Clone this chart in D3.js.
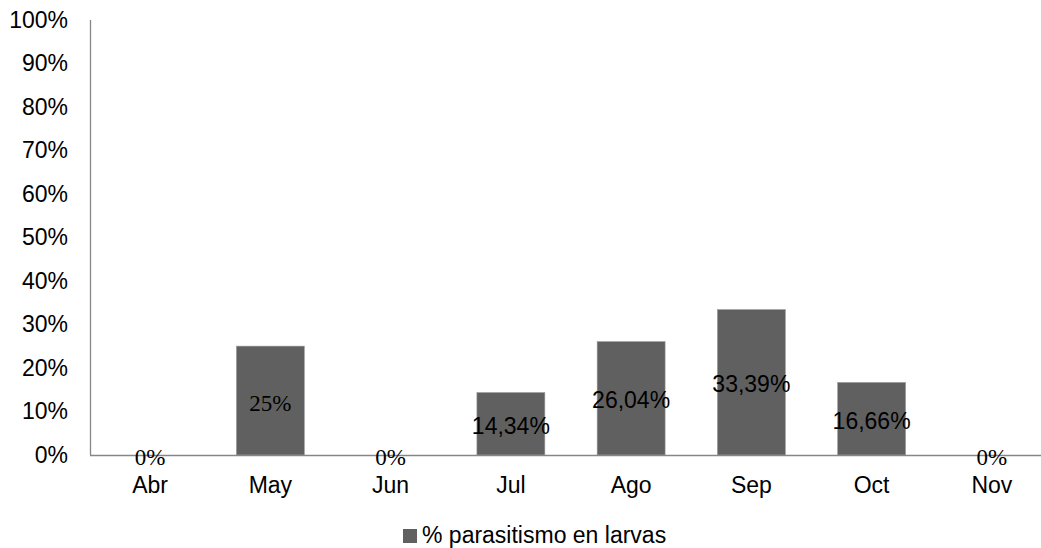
<!DOCTYPE html>
<html>
<head>
<meta charset="utf-8">
<script src="https://cdn.jsdelivr.net/npm/d3@7"></script>
<style>
  html, body { margin: 0; padding: 0; background: #fff; }
  svg { display: block; overflow: hidden; }
  text { font-family: "Liberation Sans", Arial, sans-serif; fill: #000; font-size: 23px; }
  .serif { font-family: "Liberation Serif", "Times New Roman", serif; }
</style>
</head>
<body>
<svg id="chart"></svg>
<script>
// chart data
var months = ['Abr', 'May', 'Jun', 'Jul', 'Ago', 'Sep', 'Oct', 'Nov'];
var values = [0, 25, 0, 14.34, 26.04, 33.39, 16.66, 0];
var valueLabels = ['0%', '25%', '0%', '14,34%', '26,04%', '33,39%', '16,66%', '0%'];
// some labels in the original were set in a serif face
var serifLabels = [true, true, true, false, false, false, false, true];
var yTicks = [0, 10, 20, 30, 40, 50, 60, 70, 80, 90, 100];
var seriesName = '% parasitismo en larvas';

var width = 1041, height = 548;
var svg = d3.select('#chart').attr('width', width).attr('height', height);

var x = d3.scaleBand()
  .domain(months)
  .range([90, 1052])
  .paddingInner(0.435)
  .paddingOuter(0.2175);

var y = d3.scaleLinear()
  .domain([0, 100])
  .range([455, 19.5]);

// y tick labels
svg.append('g').selectAll('text')
  .data(yTicks)
  .enter().append('text')
  .attr('x', 68)
  .attr('y', function (d) { return y(d) + 8; })
  .attr('text-anchor', 'end')
  .text(function (d) { return d + '%'; });

// bars
svg.append('g').selectAll('rect')
  .data(values)
  .enter().append('rect')
  .attr('x', function (d, i) { return x(months[i]); })
  .attr('y', function (d) { return y(d); })
  .attr('width', x.bandwidth())
  .attr('height', function (d) { return y(0) - y(d); })
  .attr('fill', '#606060')
  .attr('stroke', '#9a9a9a')
  .attr('stroke-width', 0.6);

// axes lines
svg.append('line')
  .attr('x1', 90.5).attr('x2', 90.5)
  .attr('y1', y(100) + 0.5).attr('y2', y(0))
  .attr('stroke', '#868686').attr('stroke-width', 1.3);
svg.append('line')
  .attr('x1', 90).attr('x2', 1052)
  .attr('y1', y(0) + 0.5).attr('y2', y(0) + 0.5)
  .attr('stroke', '#868686').attr('stroke-width', 1.3);

// x labels
svg.append('g').selectAll('text')
  .data(months)
  .enter().append('text')
  .attr('x', function (d) { return x(d) + x.bandwidth() / 2; })
  .attr('y', 493)
  .attr('text-anchor', 'middle')
  .text(function (d) { return d; });

// value labels, centred in the bars
svg.append('g').selectAll('text')
  .data(values)
  .enter().append('text')
  .attr('class', function (d, i) { return serifLabels[i] ? 'serif' : null; })
  .attr('x', function (d, i) { return x(months[i]) + x.bandwidth() / 2; })
  .attr('y', function (d) { return (y(d) + y(0)) / 2 + 10; })
  .attr('text-anchor', 'middle')
  .text(function (d, i) { return valueLabels[i]; });

// legend
var legend = svg.append('g').attr('transform', 'translate(403,529)');
legend.append('rect')
  .attr('width', 14).attr('height', 14)
  .attr('fill', '#606060');
legend.append('text')
  .attr('x', 19)
  .attr('y', 14)
  .text(seriesName);
</script>
</body>
</html>
